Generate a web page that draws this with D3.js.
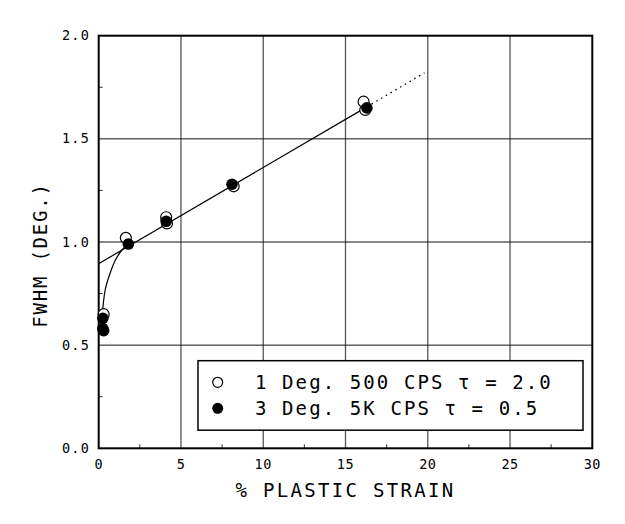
<!DOCTYPE html>
<html><head><meta charset="utf-8">
<script src="https://cdn.jsdelivr.net/npm/d3@7"></script>
<style>body{margin:0;background:#fff}svg{display:block}text{font-family:"DejaVu Sans Mono",monospace;fill:#000}</style>
</head><body><svg id="c" width="625" height="524"></svg>
<script>
// Data
const openX = [0.3, 1.65, 4.1, 4.15, 8.2, 16.1, 16.2];
const openY = [0.65, 1.02, 1.12, 1.09, 1.27, 1.68, 1.64];
const filledX = [0.25, 0.25, 0.3, 1.8, 4.1, 8.1, 16.3];
const filledY = [0.63, 0.58, 0.57, 0.99, 1.10, 1.28, 1.65];
const fitLineX = [0, 16.3];
const fitLineY = [0.895, 1.655];
const extX = [16.3, 19.8];
const extY = [1.655, 1.82];
const curveX = [0.2, 0.4, 0.7, 1.0, 1.4, 1.8];
const curveY = [0.63, 0.77, 0.85, 0.91, 0.96, 0.99];
const xTicks = [0, 5, 10, 15, 20, 25, 30];
const yTicks = [0.0, 0.5, 1.0, 1.5, 2.0];
const legendLabels = ["1 Deg. 500 CPS \u03c4 = 2.0", "3 Deg. 5K CPS \u03c4 = 0.5"];

const svg = d3.select("#c");
const L = 98.7, R = 592.3, T = 35.7, B = 448.3;
const x = d3.scaleLinear().domain([0, 30]).range([L, R]);
const y = d3.scaleLinear().domain([0, 2]).range([B, T]);

// grid
const g = svg.append("g");
g.selectAll(".vg").data(xTicks.slice(1, -1)).join("line")
  .attr("x1", d => x(d)).attr("x2", d => x(d)).attr("y1", T).attr("y2", B)
  .attr("stroke", "#555").attr("stroke-width", 1.3);
g.selectAll(".hg").data(yTicks.slice(1, -1)).join("line")
  .attr("y1", d => y(d)).attr("y2", d => y(d)).attr("x1", L).attr("x2", R)
  .attr("stroke", "#111").attr("stroke-width", 1);

// minor ticks
const xMinor = d3.range(2.5, 30, 5);
g.selectAll(".xm").data(xMinor).join("line")
  .attr("x1", d => x(d)).attr("x2", d => x(d)).attr("y1", B).attr("y2", B - 4)
  .attr("stroke", "#333").attr("stroke-width", 1);
const yMinor = d3.range(0.25, 2, 0.5);
g.selectAll(".ym").data(yMinor).join("line")
  .attr("y1", d => y(d)).attr("y2", d => y(d)).attr("x1", L).attr("x2", L + 4)
  .attr("stroke", "#333").attr("stroke-width", 1);

// frame
svg.append("rect").attr("x", L).attr("y", T).attr("width", R - L).attr("height", B - T)
  .attr("fill", "none").attr("stroke", "#000").attr("stroke-width", 2);

// tick labels
svg.selectAll(".xt").data(xTicks).join("text")
  .attr("x", d => x(d)).attr("y", 469).attr("text-anchor", "middle")
  .attr("font-size", 13.5).style("letter-spacing", "0.5px").text(d => d);
svg.selectAll(".yt").data(yTicks).join("text")
  .attr("x", 90).attr("y", d => y(d) + 4.5).attr("text-anchor", "end")
  .attr("font-size", 13.5).style("letter-spacing", "1.2px").text(d => d.toFixed(1));

// axis titles
svg.append("text").attr("x", x(15)).attr("y", 497).attr("text-anchor", "middle")
  .attr("font-size", 19).style("letter-spacing", "2.3px").text("% PLASTIC STRAIN");
svg.append("text").attr("transform", "translate(47,255) rotate(-90)").attr("text-anchor", "middle")
  .attr("font-size", 19).style("letter-spacing", "1.8px").text("FWHM (DEG.)");

// fit lines
const line = d3.line().x(d => x(d[0])).y(d => y(d[1]));
svg.append("path").datum(d3.zip(fitLineX, fitLineY)).attr("d", line)
  .attr("fill", "none").attr("stroke", "#000").attr("stroke-width", 1.2);
svg.append("path").datum(d3.zip(extX, extY)).attr("d", line)
  .attr("fill", "none").attr("stroke", "#000").attr("stroke-width", 1.3).attr("stroke-dasharray", "1.5,4");
svg.append("path").datum(d3.zip(curveX, curveY)).attr("d", line.curve(d3.curveCatmullRom))
  .attr("fill", "none").attr("stroke", "#000").attr("stroke-width", 1.2);

// points
svg.selectAll(".op").data(d3.zip(openX, openY)).join("circle")
  .attr("cx", d => x(d[0])).attr("cy", d => y(d[1])).attr("r", 5.5)
  .attr("fill", "#fff").attr("stroke", "#000").attr("stroke-width", 1.2);
svg.selectAll(".fp").data(d3.zip(filledX, filledY)).join("circle")
  .attr("cx", d => x(d[0])).attr("cy", d => y(d[1])).attr("r", 5.8)
  .attr("fill", "#000");

// legend
svg.append("rect").attr("x", 198).attr("y", 360.7).attr("width", 385).attr("height", 69.5)
  .attr("fill", "#fff").attr("stroke", "#000").attr("stroke-width", 1.5);
const ly = [382.3, 408.3];
svg.append("circle").attr("cx", 217.7).attr("cy", ly[0]).attr("r", 5)
  .attr("fill", "#fff").attr("stroke", "#000").attr("stroke-width", 1.2);
svg.append("circle").attr("cx", 217.7).attr("cy", ly[1]).attr("r", 5.5).attr("fill", "#000");
svg.selectAll(".lt").data(legendLabels).join("text")
  .attr("x", 255).attr("y", (d, i) => ly[i] + 7).attr("font-size", 19)
  .style("letter-spacing", "2.1px").text(d => d);
</script></body></html>
